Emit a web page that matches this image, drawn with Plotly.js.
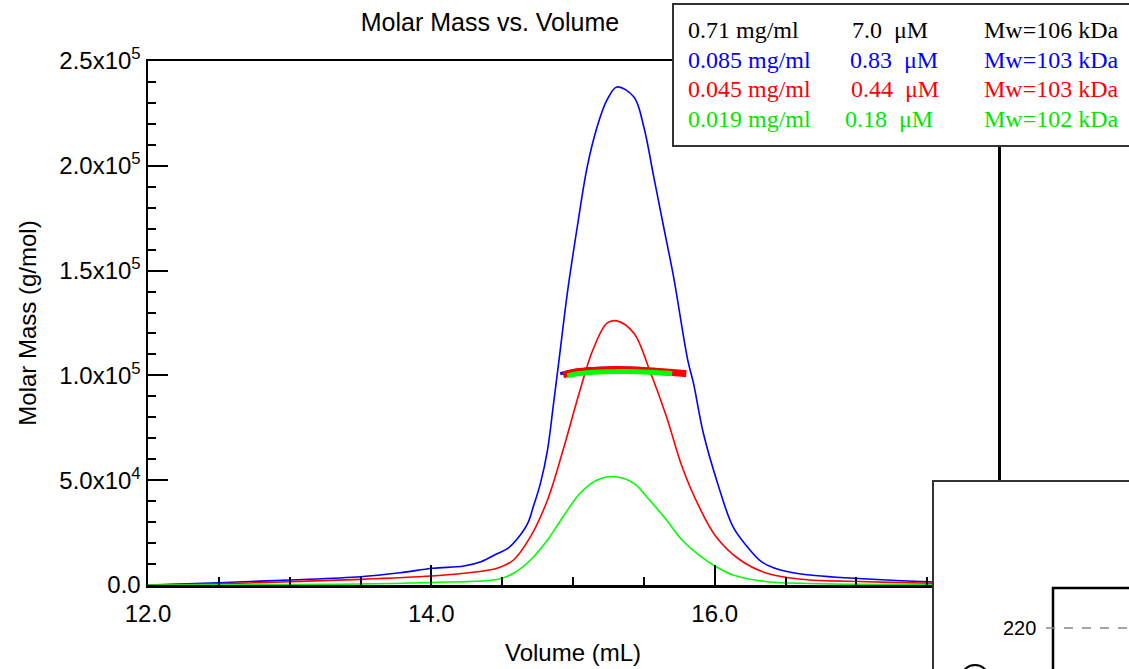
<!DOCTYPE html>
<html>
<head>
<meta charset="utf-8">
<script src="https://cdn.plot.ly/plotly-3.0.1.min.js"></script>
<style>html,body{margin:0;padding:0;background:#fff;}#chart{width:1129px;height:669px;}</style>
</head>
<body>
<div id="chart"></div>
<script>
// ---- data ----
const volBlue = [12.0, 12.5, 13.0, 13.5, 13.78, 14.01, 14.23, 14.35, 14.46, 14.54, 14.61, 14.68, 14.72, 14.77, 14.82, 14.86, 14.91, 14.96, 15.03, 15.10, 15.17, 15.24, 15.31, 15.43, 15.50, 15.57, 15.64, 15.71, 15.81, 15.85, 15.92, 16.02, 16.13, 16.23, 16.33, 16.42, 16.61, 17.08, 17.55, 18.0];
const massBlue = [0, 1100, 2400, 3960, 5870, 7970, 9070, 11100, 14800, 17500, 22300, 29400, 37400, 48500, 64400, 85100, 112100, 139300, 170800, 199400, 218500, 231400, 237600, 232800, 218500, 194700, 170800, 147000, 107300, 96400, 72500, 48700, 27700, 18300, 11100, 8100, 5250, 2860, 1430, 1000];

const volRed = [12.0, 12.5, 13.0, 13.5, 14.0, 14.23, 14.47, 14.58, 14.70, 14.82, 14.93, 15.05, 15.14, 15.24, 15.31, 15.43, 15.54, 15.66, 15.77, 15.89, 16.01, 16.18, 16.37, 16.61, 17.08, 17.55, 18.0];
const massRed = [0, 600, 1570, 2700, 4300, 5580, 8110, 11930, 23050, 40550, 64400, 93000, 112100, 124900, 126000, 120100, 102600, 80300, 56400, 37350, 23050, 11930, 5580, 2720, 1570, 800, 500];

const volGreen = [12.0, 13.0, 13.5, 14.0, 14.47, 14.58, 14.70, 14.82, 14.93, 15.05, 15.17, 15.30, 15.43, 15.54, 15.66, 15.77, 15.89, 16.01, 16.13, 16.37, 16.61, 17.0, 17.5, 18.0];
const massGreen = [0, 200, 500, 1200, 2720, 5580, 11930, 21470, 32590, 43750, 50100, 51670, 48500, 40550, 31000, 21470, 14300, 8730, 4770, 1570, 800, 300, 150, 100];

// molar mass across the peak
const mmVolBlue = [14.91, 15.0, 15.1, 15.2, 15.3, 15.4, 15.5, 15.6, 15.65];
const mmBlue = [100800, 102200, 103000, 103400, 103500, 103400, 103100, 102600, 102300];
const mmVolRed = [14.93, 15.0, 15.1, 15.2, 15.3, 15.4, 15.5, 15.6, 15.7, 15.8];
const mmRed = [100300, 101400, 102200, 102600, 102800, 102700, 102400, 101900, 101400, 100800];
const mmVolGreen = [14.96, 15.05, 15.15, 15.25, 15.35, 15.45, 15.55, 15.65, 15.70];
const mmGreen = [99900, 100900, 101500, 101800, 101900, 101800, 101500, 101100, 100800];

// legend table
const concLabels = ["0.71 mg/ml", "0.085 mg/ml", "0.045 mg/ml", "0.019 mg/ml"];
const molarLabels = ["7.0\u00a0\u00a0\u03bcM", "0.83\u00a0\u00a0\u03bcM", "0.44\u00a0\u00a0\u03bcM", "0.18\u00a0\u00a0\u03bcM"];
const mwLabels = ["Mw=106 kDa", "Mw=103 kDa", "Mw=103 kDa", "Mw=102 kDa"];
const rowColors = ["#000000", "#0000ff", "#ff0000", "#00e600"];

// axis ticks
const xTickVals = [12, 14, 16];
const xTickText = ["12.0", "14.0", "16.0"];
const yTickVals = [0, 50000, 100000, 150000, 200000, 250000];
const yTickText = ["0.0", "5.0x10<sup>4</sup>", "1.0x10<sup>5</sup>", "1.5x10<sup>5</sup>", "2.0x10<sup>5</sup>", "2.5x10<sup>5</sup>"];

// ---- geometry helpers (pixel -> paper) ----
const W = 1129, H = 669, L = 148, R = 998, T = 61, B = 585;
const px = p => (p - L) / (R - L);
const py = p => (B - p) / (B - T);

const traces = [
  {x: volBlue, y: massBlue, mode: 'lines', line: {color: '#0000ff', width: 1.6, shape: 'spline', smoothing: 1}, hoverinfo: 'skip'},
  {x: volRed, y: massRed, mode: 'lines', line: {color: '#ff0000', width: 1.6, shape: 'spline', smoothing: 1}, hoverinfo: 'skip'},
  {x: volGreen, y: massGreen, mode: 'lines', line: {color: '#00ff00', width: 1.6, shape: 'spline', smoothing: 1}, hoverinfo: 'skip'},
  {x: mmVolBlue, y: mmBlue, mode: 'lines', line: {color: '#0000ff', width: 3, shape: 'spline'}, hoverinfo: 'skip'},
  {x: mmVolRed, y: mmRed, mode: 'lines', line: {color: '#ff0000', width: 7, shape: 'spline'}, hoverinfo: 'skip'},
  {x: mmVolGreen, y: mmGreen, mode: 'lines', line: {color: '#00ff00', width: 5, shape: 'spline'}, hoverinfo: 'skip'}
];

const annotations = [];
const rowY = [30, 60, 89, 119];
const col2X = [850, 848, 849, 843];
for (let i = 0; i < concLabels.length; i++) {
  const f = {family: 'Liberation Serif, Times New Roman, serif', size: 24, color: rowColors[i]};
  annotations.push({xref: 'paper', yref: 'paper', x: px(686), y: py(rowY[i]), xanchor: 'left', yanchor: 'middle', text: concLabels[i], showarrow: false, font: f});
  annotations.push({xref: 'paper', yref: 'paper', x: px(col2X[i]), y: py(rowY[i]), xanchor: 'left', yanchor: 'middle', text: molarLabels[i], showarrow: false, font: f});
  annotations.push({xref: 'paper', yref: 'paper', x: px(982), y: py(rowY[i]), xanchor: 'left', yanchor: 'middle', text: mwLabels[i], showarrow: false, font: f});
}
annotations.push({xref: 'paper', yref: 'paper', x: px(1038), y: py(628), xanchor: 'right', yanchor: 'middle', text: '220', showarrow: false, font: {family: 'Liberation Sans, Arial, sans-serif', size: 20, color: '#000'}});

const shapes = [
  // legend box
  {type: 'rect', xref: 'paper', yref: 'paper', x0: px(673), x1: px(1140), y0: py(4), y1: py(146), line: {color: '#333', width: 2}, fillcolor: '#fff', layer: 'above'},
  // inset panel (bottom right)
  {type: 'rect', xref: 'paper', yref: 'paper', x0: px(933), x1: px(1140), y0: py(481), y1: py(700), line: {color: '#333', width: 2}, fillcolor: '#fff', layer: 'above'},
  {type: 'rect', xref: 'paper', yref: 'paper', x0: px(1053), x1: px(1140), y0: py(588), y1: py(700), line: {color: '#000', width: 2.5}, fillcolor: 'rgba(0,0,0,0)', layer: 'above'},
  {type: 'line', xref: 'paper', yref: 'paper', x0: px(1046), x1: px(1130), y0: py(628), y1: py(628), line: {color: '#888', width: 1.5, dash: 'dash'}, layer: 'above'},
  {type: 'circle', xref: 'paper', yref: 'paper', x0: px(961), x1: px(989), y0: py(665), y1: py(693), line: {color: '#000', width: 2}, layer: 'above'}
];

const axisFont = {family: 'Liberation Sans, Arial, sans-serif', size: 24, color: '#000'};

const layout = {
  width: W, height: H,
  margin: {l: L, r: W - R, t: T, b: H - B, pad: 0},
  paper_bgcolor: '#fff', plot_bgcolor: '#fff',
  showlegend: false,
  title: {text: 'Molar Mass vs. Volume', font: {family: 'Liberation Sans, Arial, sans-serif', size: 25, color: '#000'}, xref: 'container', yref: 'container', x: 490 / W, xanchor: 'center', y: 1 - 22 / H, yanchor: 'middle'},
  xaxis: {
    range: [12, 18], showgrid: false, zeroline: false,
    showline: true, linecolor: '#000', linewidth: 2.5, mirror: true,
    ticks: 'inside', ticklen: 20, tickwidth: 2, tickcolor: '#000',
    tickmode: 'array', tickvals: xTickVals, ticktext: xTickText, tickfont: axisFont, ticklabelstandoff: 6,
    minor: {tickmode: 'linear', tick0: 12, dtick: 0.5, ticks: 'inside', ticklen: 8, tickwidth: 2, tickcolor: '#000'},
    title: {text: 'Volume (mL)', font: axisFont, standoff: 18}
  },
  yaxis: {
    range: [0, 250000], showgrid: false, zeroline: false,
    showline: true, linecolor: '#000', linewidth: 2.5, mirror: true,
    ticks: 'inside', ticklen: 20, tickwidth: 2, tickcolor: '#000',
    tickvals: yTickVals, ticktext: yTickText, tickfont: axisFont,
    minor: {dtick: 10000, ticks: 'inside', ticklen: 8, tickwidth: 2, tickcolor: '#000'},
    title: {text: 'Molar Mass (g/mol)', font: axisFont, standoff: 16}
  },
  annotations: annotations,
  shapes: shapes
};

Plotly.newPlot('chart', traces, layout, {staticPlot: true, displayModeBar: false});
</script>
</body>
</html>
